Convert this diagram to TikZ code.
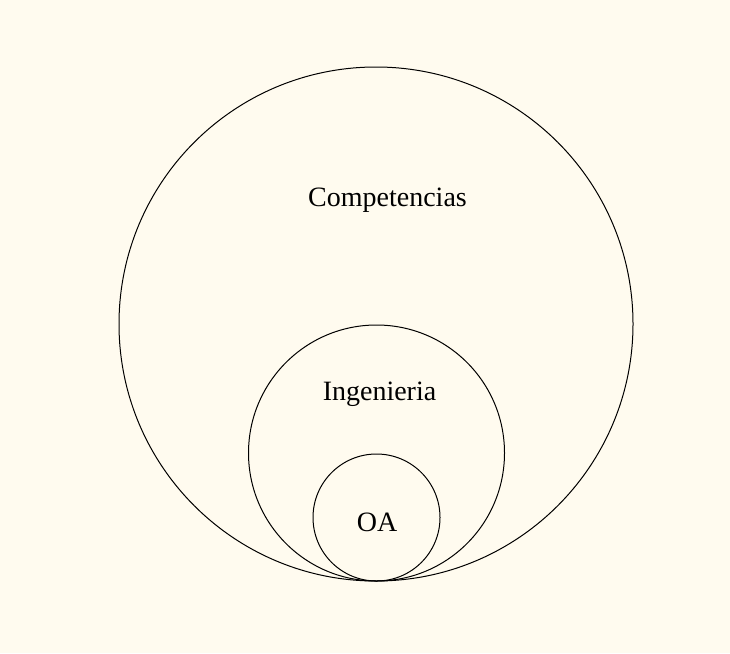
\documentclass[tikz,border=0pt]{standalone}
\usepackage{fontspec}
\setmainfont{Liberation Serif}
\usetikzlibrary{positioning}
\definecolor{paper}{RGB}{255,251,239}
\tikzset{
  ring/.style={circle,draw=black,line width=1pt,inner sep=0pt},
  tag/.style={font=\fontsize{28}{32}\selectfont,inner sep=0pt,anchor=base}
}
\begin{document}
\begin{tikzpicture}[x=1pt,y=-1pt]
\fill[paper] (0,0) rectangle (730,653);
\useasboundingbox (0,0) rectangle (730,653);

\node[ring,minimum size=514pt] (outer) at (376,324) {};
\node[ring,minimum size=256pt] (middle) at (376.5,453) {};
\node[ring,minimum size=127pt] (inner) at (376.5,517.5) {};

\node[tag] (comp) at (387.5,206) {Competencias};
\node[tag] (ing) at (379.5,400) {Ingenieria};
\node[tag] (oa) at (377,531) {OA};
\end{tikzpicture}
\end{document}
